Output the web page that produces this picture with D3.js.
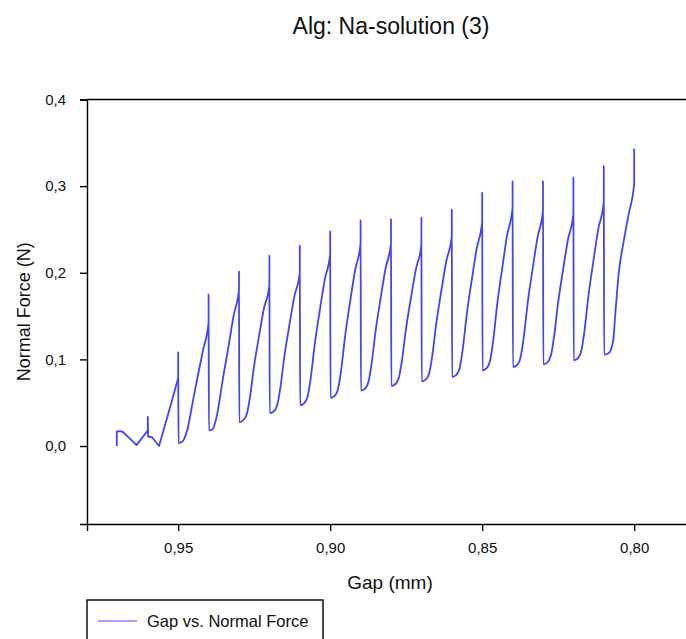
<!DOCTYPE html>
<html>
<head>
<meta charset="utf-8">
<script src="https://cdn.jsdelivr.net/npm/d3@7"></script>
<style>
  body { margin: 0; background: #fff; }
  svg { display: block; font-family: Arial, "Liberation Sans", sans-serif; }
  .axis path, .axis line { stroke: #000; stroke-width: 1.4; }
</style>
</head>
<body>
<div id="chart"></div>
<script>
// Data //////////////////////////////////////////////////////////////////
// Gap (mm), one line per load/relax cycle
const gapValues = [
  0.9702, 0.9702, 0.9690, 0.9681, 0.9637, 0.9600, 0.9600, 0.9599, 0.9587, 0.9563, 0.9532,
  0.9500, 0.9500, 0.9499, 0.9487, 0.9472, 0.9451, 0.9434, 0.9418,
  0.9400, 0.9400, 0.9399, 0.9388, 0.9375, 0.9351, 0.9334, 0.9318,
  0.9300, 0.9300, 0.9299, 0.9287, 0.9274, 0.9264, 0.9251, 0.9234, 0.9218,
  0.9200, 0.9200, 0.9199, 0.9187, 0.9174, 0.9164, 0.9151, 0.9134, 0.9118,
  0.9100, 0.9100, 0.9099, 0.9087, 0.9074, 0.9064, 0.9051, 0.9034, 0.9018,
  0.9000, 0.9000, 0.8999, 0.8987, 0.8974, 0.8964, 0.8951, 0.8934, 0.8918,
  0.8900, 0.8900, 0.8899, 0.8887, 0.8874, 0.8864, 0.8851, 0.8834, 0.8818,
  0.8800, 0.8800, 0.8799, 0.8787, 0.8774, 0.8764, 0.8751, 0.8734, 0.8718,
  0.8700, 0.8700, 0.8699, 0.8687, 0.8674, 0.8664, 0.8651, 0.8634, 0.8618,
  0.8600, 0.8600, 0.8599, 0.8587, 0.8574, 0.8564, 0.8551, 0.8534, 0.8518,
  0.8500, 0.8500, 0.8499, 0.8487, 0.8474, 0.8464, 0.8451, 0.8434, 0.8418,
  0.8400, 0.8400, 0.8399, 0.8387, 0.8374, 0.8364, 0.8351, 0.8334, 0.8318,
  0.8300, 0.8300, 0.8299, 0.8287, 0.8274, 0.8264, 0.8251, 0.8234, 0.8218,
  0.8200, 0.8200, 0.8199, 0.8187, 0.8174, 0.8164, 0.8151, 0.8134, 0.8118,
  0.8100, 0.8100, 0.8099, 0.8084, 0.8069, 0.8062, 0.8051, 0.8034, 0.8018,
  0.8000, 0.8000
];

// Normal force (N) at each gap value above
const forceValues = [
  0.000, 0.017, 0.0172, 0.016, 0.001, 0.018, 0.0335, 0.011, 0.0104, 0.000, 0.038,
  0.0785, 0.1085, 0.0035, 0.005, 0.0162, 0.053, 0.0837, 0.111,
  0.143, 0.175, 0.018, 0.019, 0.0316, 0.0818, 0.116, 0.150,
  0.181, 0.2017, 0.0277, 0.0293, 0.0372, 0.0561, 0.0908, 0.1271, 0.1587,
  0.1855, 0.220, 0.038, 0.0396, 0.0477, 0.0672, 0.1028, 0.1401, 0.1725,
  0.200, 0.2314, 0.047, 0.049, 0.0575, 0.0785, 0.117, 0.157, 0.192,
  0.222, 0.248, 0.0555, 0.0573, 0.0662, 0.0875, 0.1267, 0.1676, 0.2032,
  0.2337, 0.2606, 0.064, 0.0657, 0.0742, 0.0945, 0.1319, 0.1709, 0.2049,
  0.2337, 0.262, 0.0695, 0.0711, 0.0792, 0.0987, 0.1344, 0.1717, 0.2042,
  0.2318, 0.2637, 0.0747, 0.0764, 0.0847, 0.1048, 0.1416, 0.1801, 0.2136,
  0.242, 0.273, 0.0797, 0.0815, 0.0904, 0.1119, 0.1513, 0.1925, 0.2283,
  0.2587, 0.2926, 0.0874, 0.0893, 0.0987, 0.1212, 0.1626, 0.2058, 0.2434,
  0.2753, 0.3057, 0.0912, 0.093, 0.102, 0.1236, 0.1633, 0.2047, 0.2408,
  0.2714, 0.3057, 0.0943, 0.096, 0.1047, 0.1255, 0.1636, 0.2035, 0.2381,
  0.2676, 0.310, 0.099, 0.1008, 0.110, 0.1319, 0.1721, 0.2142, 0.2507,
  0.2818, 0.3233, 0.1055, 0.107, 0.122, 0.153, 0.199, 0.2375, 0.268,
  0.303, 0.3434
];

// Axis ticks
const xTicks = [0.95, 0.90, 0.85, 0.80];
const yTicks = [0.0, 0.1, 0.2, 0.3, 0.4];

const titleText = 'Alg: Na-solution (3)';
const xLabel = 'Gap (mm)';
const yLabel = 'Normal Force (N)';
const legendLabel = 'Gap vs. Normal Force';

// Chart /////////////////////////////////////////////////////////////////
const width = 686, height = 639;
const plot = {left: 87, right: 695, top: 99.5, bottom: 524};
const lineColor = '#4242ff';
const textColor = '#111';

const svg = d3.select('#chart').append('svg')
  .attr('width', width)
  .attr('height', height);

// Gap axis runs backwards (large gap on the left)
const x = d3.scaleLinear()
  .domain([0.98, 0.78])
  .range([plot.left, plot.right]);

const y = d3.scaleLinear()
  .domain([-0.09, 0.4])
  .range([plot.bottom, plot.top]);

// decimal comma, like the original
const comma = f => v => d3.format(f)(v).replace('.', ',');

// Title
svg.append('text')
  .attr('x', 391)
  .attr('y', 34)
  .attr('text-anchor', 'middle')
  .style('font-size', '23px')
  .style('fill', textColor)
  .text(titleText);

// Top frame line
svg.append('line')
  .attr('x1', plot.left).attr('x2', plot.right)
  .attr('y1', plot.top).attr('y2', plot.top)
  .attr('stroke', '#000')
  .attr('stroke-width', 1.4);

// Axes
const xAxis = svg.append('g')
  .attr('class', 'axis axis-x')
  .attr('transform', `translate(0,${plot.bottom})`)
  .call(d3.axisBottom(x).tickValues(xTicks).tickFormat(comma('.2f'))
    .tickSizeOuter(0).tickSize(7).tickPadding(11));

const yAxis = svg.append('g')
  .attr('class', 'axis axis-y')
  .attr('transform', `translate(${plot.left},0)`)
  .call(d3.axisLeft(y).tickValues(yTicks).tickFormat(comma('.1f'))
    .tickSizeOuter(0).tickSize(7).tickPadding(14));

[xAxis, yAxis].forEach(a => a
  .attr('font-size', 15)
  .attr('font-family', 'Arial, "Liberation Sans", sans-serif')
  .selectAll('text').attr('fill', textColor));

// Axis labels
svg.append('text')
  .attr('x', 390)
  .attr('y', 589)
  .attr('text-anchor', 'middle')
  .style('font-size', '19px')
  .style('fill', textColor)
  .text(xLabel);

svg.append('text')
  .attr('transform', `translate(30,${(plot.top + plot.bottom) / 2}) rotate(-90)`)
  .attr('text-anchor', 'middle')
  .style('font-size', '18px')
  .style('fill', textColor)
  .text(yLabel);

// The measured curve
// The start-up part (before the first big spike at 0.95) has sharp corners,
// the relaxation cycles after it are smooth
const points = gapValues.map((g, i) => [g, forceValues[i]]);
const firstSpike = gapValues.indexOf(0.95);
const lineGen = d3.line().x(d => x(d[0])).y(d => y(d[1]));

svg.append('path')
  .datum(points.slice(0, firstSpike + 1))
  .attr('fill', 'none')
  .attr('stroke', lineColor)
  .attr('stroke-width', 1.8)
  .attr('stroke-linejoin', 'round')
  .attr('d', lineGen.curve(d3.curveLinear));

svg.append('path')
  .datum(points.slice(firstSpike))
  .attr('fill', 'none')
  .attr('stroke', lineColor)
  .attr('stroke-width', 1.8)
  .attr('stroke-linejoin', 'round')
  .attr('d', lineGen.curve(d3.curveMonotoneX));

// Legend box (runs off the bottom of the picture)
const legend = svg.append('g').attr('transform', 'translate(87,600)');
legend.append('rect')
  .attr('width', 236)
  .attr('height', 60)
  .attr('fill', '#fff')
  .attr('stroke', '#000')
  .attr('stroke-width', 1.4);
legend.append('line')
  .attr('x1', 11).attr('x2', 50)
  .attr('y1', 21).attr('y2', 21)
  .attr('stroke', lineColor)
  .attr('stroke-width', 1.2);
legend.append('text')
  .attr('x', 60)
  .attr('y', 27)
  .style('font-size', '16.5px')
  .style('fill', textColor)
  .text(legendLabel);
</script>
</body>
</html>
